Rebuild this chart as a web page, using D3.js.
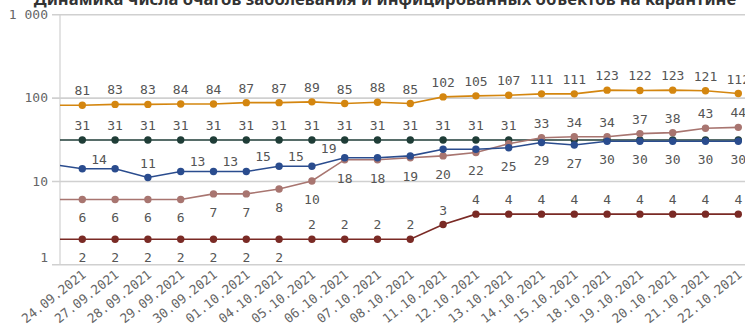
<!DOCTYPE html>
<html><head><meta charset="utf-8">
<script src="https://cdn.jsdelivr.net/npm/d3@7"></script>
<style>
html,body{margin:0;padding:0;background:#fff;overflow:hidden}
svg{display:block}
</style></head>
<body>
<svg id="chart" width="745" height="328"></svg>
<script>
// ---- data ----
// first date lies just before the visible window (its line enters from the left edge)
const dates = ["23.09.2021","24.09.2021","27.09.2021","28.09.2021","29.09.2021","30.09.2021","01.10.2021","04.10.2021","05.10.2021","06.10.2021","07.10.2021","08.10.2021","11.10.2021","12.10.2021","13.10.2021","14.10.2021","15.10.2021","18.10.2021","19.10.2021","20.10.2021","21.10.2021","22.10.2021"];
const orangeVals = [81,81,83,83,84,84,87,87,89,85,88,85,102,105,107,111,111,123,122,123,121,112];
const greenVals  = [31,31,31,31,31,31,31,31,31,31,31,31,31,31,31,31,31,31,31,31,31,31];
const pinkVals   = [6,6,6,6,6,7,7,8,10,18,18,19,20,22,28,33,34,34,37,38,43,44];
const blueVals   = [16,14,14,11,13,13,13,15,15,19,19,20,24,24,25,29,27,30,30,30,30,30];
const redVals    = [2,2,2,2,2,2,2,2,2,2,2,2,3,4,4,4,4,4,4,4,4,4];
const yTicks = [1,10,100,1000];
const title = "Динамика числа очагов заболевания и инфицированных объектов на карантине";

// ---- layout ----
const W = 745, H = 328;
const plotLeft = 60, plotTop = 14.3, plotBottom = 264.3;
const svg = d3.select("#chart");
const mono = "'DejaVu Sans Mono', monospace";

const x = d3.scalePoint().domain(dates).range([49.5, 738.3]);
const y = d3.scaleLog().domain([1,1000]).range([plotBottom, plotTop]);
const fmt = d3.formatLocale({decimal:",", thousands:"\u00a0", grouping:[3], currency:["",""]}).format(",");

// title (cut by the top edge, as in the source)
svg.append("text").attr("x", 385).attr("y", 4.5).attr("text-anchor","middle")
  .attr("font-family","'Noto Sans', sans-serif").attr("font-weight","bold")
  .attr("font-size",16.6).attr("fill","#333").text(title);

// y grid + axis
const yAxis = d3.axisLeft(y).tickValues(yTicks).tickFormat(fmt).tickSize(-(W - plotLeft)).tickPadding(12);
const gy = svg.append("g").attr("transform",`translate(${plotLeft},0)`).call(yAxis);
gy.select(".domain").remove();
gy.selectAll(".tick line").attr("stroke","#d0d0d0").attr("stroke-width",1.6).attr("x1",-8);
gy.selectAll(".tick text").attr("font-family",mono).attr("font-size",13).attr("fill","#666")
  .attr("dy", d => d === 1 ? "-0.25em" : "0.32em");
// vertical axis line
svg.append("line").attr("x1",plotLeft).attr("x2",plotLeft).attr("y1",plotTop).attr("y2",plotBottom)
  .attr("stroke","#d0d0d0").attr("stroke-width",1.2);

// x axis labels (only dates inside the window)
const visibleDates = dates.filter(d => x(d) >= plotLeft);
const xAxis = d3.axisBottom(x).tickValues(visibleDates).tickSize(0).tickPadding(0);
const gx = svg.append("g").attr("transform",`translate(0,${plotBottom})`).call(xAxis);
gx.select(".domain").remove();
gx.selectAll(".tick text").attr("font-family",mono).attr("font-size",12.8).attr("fill","#666")
  .attr("text-anchor","end").attr("dy",0).attr("y",0)
  .attr("transform","translate(4,12) rotate(-38)");

// clip
svg.append("clipPath").attr("id","clip").append("rect")
  .attr("x",plotLeft).attr("y",0).attr("width",W - plotLeft + 20).attr("height",H);

const series = [
  {key:"green",  vals:greenVals,  color:"#1f3d37"},
  {key:"orange", vals:orangeVals, color:"#d4860f"},
  {key:"pink",   vals:pinkVals,   color:"#a87570"},
  {key:"blue",   vals:blueVals,   color:"#2a4c8e"},
  {key:"red",    vals:redVals,    color:"#7a2a25"}
];

// label placement rules (i = index among visible dates)
const ABOVE = -14.5, BELOW = 18.5;
const labelRule = {
  orange: i => ({dx:0, dy:ABOVE}),
  green:  i => i <= 13 ? {dx:0, dy:ABOVE} : null,
  blue:   i => {
    if (i === 2) return {dx:0, dy:ABOVE};
    if (i === 1 || (i >= 4 && i <= 8)) return {dx:-16, dy:-9.5};
    if (i >= 13) return {dx:0, dy:BELOW};
    return null;
  },
  pink:   i => i <= 12 ? {dx:0, dy:BELOW} : (i === 13 ? null : {dx:0, dy:ABOVE}),
  red:    i => i <= 6 ? {dx:0, dy:BELOW} : {dx:0, dy:ABOVE}
};

const plot = svg.append("g").attr("clip-path","url(#clip)");
const line = d3.line().x((d,i) => x(dates[i])).y(d => y(d));

series.forEach(s => {
  const g = plot.append("g");
  g.append("path").datum(s.vals).attr("d", line).attr("fill","none")
    .attr("stroke", s.color).attr("stroke-width",1.6);
  g.selectAll("circle").data(s.vals).join("circle")
    .attr("cx",(d,i) => x(dates[i])).attr("cy", d => y(d)).attr("r",3.7).attr("fill", s.color);
});

// data labels (drawn last, on top)
const labelsG = svg.append("g").attr("clip-path","url(#clip)");
series.forEach(s => {
  s.vals.forEach((v, j) => {
    if (x(dates[j]) < plotLeft) return;
    const rule = labelRule[s.key](j - 1);
    if (!rule) return;
    labelsG.append("text")
      .attr("x", x(dates[j]) + rule.dx).attr("y", y(v) + rule.dy)
      .attr("dominant-baseline","central").attr("text-anchor","middle")
      .attr("font-family", mono).attr("font-size",13).attr("fill","#555")
      .text(v);
  });
});
</script>
</body></html>
